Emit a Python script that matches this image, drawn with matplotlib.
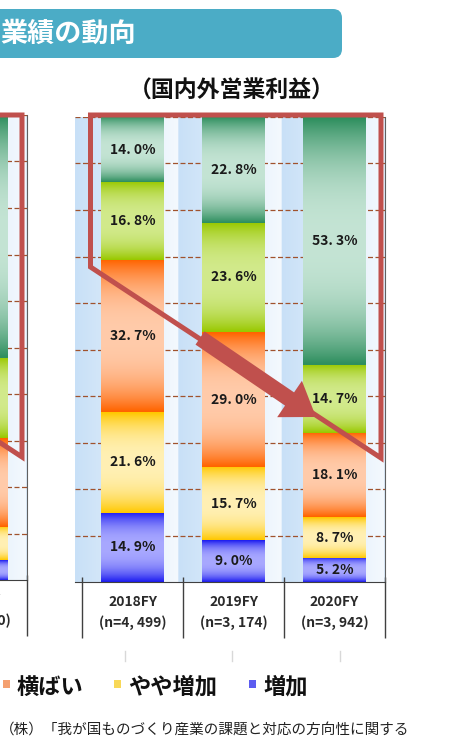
import numpy as np
import matplotlib
matplotlib.use("Agg")
import matplotlib.pyplot as plt
from matplotlib.patches import FancyBboxPatch, Polygon, FancyArrow, Rectangle
from matplotlib.transforms import Affine2D
from matplotlib.colors import to_rgb

plt.rcParams['font.family'] = ['Noto Sans CJK JP', 'DejaVu Sans']

W, H = 451, 749

# データ（国内外営業利益）
years = ["2018FY", "2019FY", "2020FY"]
n_counts = ["(n=4, 499)", "(n=3, 174)", "(n=3, 942)"]
series = ["増加", "やや増加", "横ばい", "やや減少", "減少"]
zouka = [14.9, 9.0, 5.2]
yaya_zouka = [21.6, 15.7, 8.7]
yokobai = [32.7, 29.0, 18.1]
yaya_gensho = [16.8, 23.6, 14.7]
gensho = [14.0, 22.8, 53.3]

# 左のグラフ（2020FYの棒だけ見えている）
left_year = "2020FY"
left_n = "(n=3, 970)"
left_vals = [4.3, 7.1, 19.1, 17.3, 52.2]

edge_cols = ["#1c1cf0", "#ffc800", "#ff6400", "#99c800", "#2f8f5f"]
mid_cols = ["#a8a8ff", "#fff0b4", "#ffcbaa", "#d2ea8c", "#c4e4d4"]
legend_cols = ["#5c5cf0", "#f8d858", "#f4a070", "#b8d850", "#5aa880"]
RED = "#c0504d"

XL = (-0.57, 2.5)


def grad_img(c_edge, c_mid, n=80):
    t = np.linspace(0, 1, n)
    f = 1 - np.abs(2 * t - 1) ** 2.5
    e = np.array(to_rgb(c_edge))
    m = np.array(to_rgb(c_mid))
    img = e[None, :] * (1 - f[:, None]) + m[None, :] * f[:, None]
    return img[:, None, :]


def draw_bg(ax):
    xx = np.linspace(0, 3, 600)
    f = xx % 1.0
    c0 = np.array(to_rgb("#c8e0f7"))
    c1 = np.array(to_rgb("#f4f9fe"))
    img = c0 * (1 - f[:, None]) + c1 * f[:, None]
    ax.imshow(img[None, :, :], extent=[XL[0], XL[1], 0, 100],
              aspect="auto", zorder=0)
    ax.hlines(range(10, 101, 10), XL[0], XL[1], colors="#a0522d",
              linestyles=(0, (4, 2)), lw=0.9, zorder=1)


def draw_stack(ax, xs, stacks, labels=True):
    bottom = np.zeros(len(xs))
    for i, vals in enumerate(stacks):
        vals = np.array(vals)
        bars = ax.bar(xs, vals, 0.62, bottom=bottom, color=edge_cols[i], zorder=2)
        for b, v in zip(bars, vals):
            ax.imshow(grad_img(edge_cols[i], mid_cols[i]),
                      extent=[b.get_x(), b.get_x() + b.get_width(),
                              b.get_y(), b.get_y() + b.get_height()],
                      origin="lower", aspect="auto", zorder=2.5,
                      interpolation="bilinear")
            if labels:
                ax.text(b.get_x() + b.get_width() / 2, b.get_y() + v / 2,
                        f"{v:.1f}%".replace(".", ". "), ha="center", va="center",
                        fontsize=10, fontweight="bold", color="#1a1a1a", zorder=4)
        bottom += vals


def style_axes(ax, xs, ticklabels):
    ax.set_xlim(*XL)
    ax.set_ylim(0, 100)
    ax.set_yticks([])
    ax.set_xticks(xs)
    ax.set_xticklabels(ticklabels, fontsize=10, fontweight="bold",
                       color="#2a2a2a", linespacing=1.55)
    ax.tick_params(axis="x", length=0, pad=9)
    for s in ["top", "left"]:
        ax.spines[s].set_visible(False)
    ax.spines["bottom"].set_color("#404040")
    ax.spines["right"].set_color("#606060")
    ax.vlines([-0.5, 0.5, 1.5, 2.5], -12, 1, colors="#404040", lw=1,
              clip_on=False)


fig = plt.figure(figsize=(W / 100, H / 100), dpi=100)
px = Affine2D().scale(1, -1).translate(0, H)

# 左側のグラフ（一部）
ax2 = fig.add_axes([-283 / W, (H - 580) / H, 310 / W, 465 / H])
draw_bg(ax2)
draw_stack(ax2, [2], [[v] for v in left_vals], labels=False)
style_axes(ax2, [2], [f"{left_year}\n{left_n}"])

# メインのグラフ
ax = fig.add_axes([75 / W, (H - 582) / H, 310 / W, 465 / H])
draw_bg(ax)
x = np.arange(len(years))
draw_stack(ax, x, [zouka, yaya_zouka, yokobai, yaya_gensho, gensho])
style_axes(ax, x, [f"{y}\n{n}" for y, n in zip(years, n_counts)])

# タイトル帯
fig.add_artist(FancyBboxPatch((-20, 9), 362, 49,
                              boxstyle="round,pad=0,rounding_size=9",
                              fc="#4bacc6", ec="none", transform=px))
fig.text(0, 34, "業績の動向", transform=px, color="white", fontsize=19.5,
         fontweight="bold", ha="left", va="center")
fig.text(232, 91, "（国内外営業利益）", transform=px, color="#111",
         fontsize=16.5, fontweight="bold", ha="center", va="center")

# 赤い枠と矢印
for pts in ([(90.5, 115), (381, 115), (381, 458), (90.5, 267)],
            [(-268, 115), (22, 115), (22, 457), (-268, 267)]):
    fig.add_artist(Polygon(pts, closed=True, fill=False, ec=RED, lw=3.6,
                           joinstyle="miter", transform=px))
fig.add_artist(FancyArrow(200, 338, 116, 79, width=16, head_width=44,
                          head_length=32, length_includes_head=True,
                          fc=RED, ec="none", transform=px))

# 凡例（左側は切れている）
leg = [("横ばい", 3, 17, legend_cols[2]),
       ("やや増加", 114, 128, legend_cols[1]),
       ("増加", 249, 263, legend_cols[0])]
for lab, sx, tx, c in leg:
    fig.add_artist(Rectangle((sx, 680), 7, 8, fc=c, ec="none", transform=px))
    fig.text(tx, 687, lab, transform=px, fontsize=16, fontweight="bold",
             color="#111", ha="left", va="center")

# 下のグラフの目盛り（薄い）
for gx in [125, 232, 340]:
    fig.add_artist(plt.Line2D([gx, gx], [651, 661], color="#d8d8d8", lw=1,
                              transform=px))

fig.text(0, 730, "（株）「我が国ものづくり産業の課題と対応の方向性に関する",
         transform=px, fontsize=10.5, color="#222", ha="left", va="center")

fig.savefig("out.png", dpi=100)
